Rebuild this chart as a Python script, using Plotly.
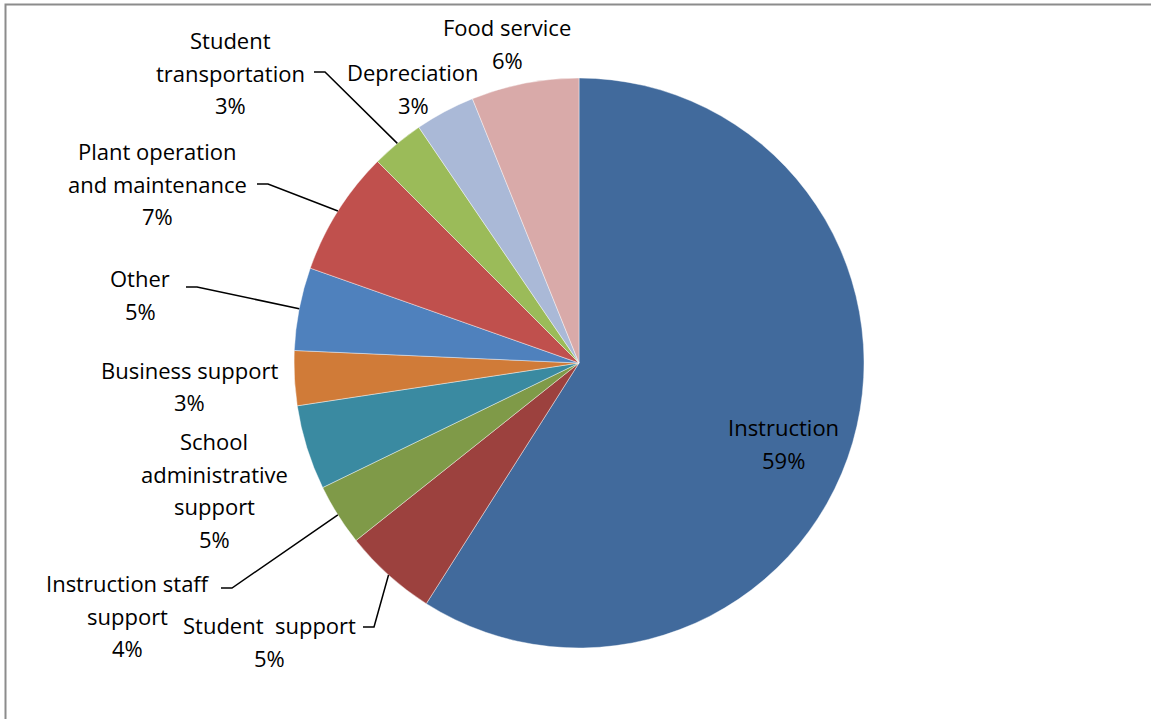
import math
import plotly.graph_objects as go

# ---- data ----
categories = ["Instruction", "Student support", "Instruction staff support",
              "School administrative support", "Business support", "Other",
              "Plant operation and maintenance", "Student transportation",
              "Depreciation", "Food service"]
values = [59.0, 5.3, 3.5, 4.8, 3.1, 4.7, 7.1, 3.0, 3.4, 6.1]
colors = ["#416A9C", "#9C413E", "#7F9A48", "#3A8AA1", "#D07B38", "#4F81BD",
          "#C0504D", "#9BBB59", "#AAB9D7", "#D9AAA9"]
label_lines = [["Instruction"], ["Student  support"], ["Instruction staff", "support"],
               ["School", "administrative", "support"], ["Business support"], ["Other"],
               ["Plant operation", "and maintenance"], ["Student", "transportation"],
               ["Depreciation"], ["Food service"]]

# ---- layout geometry (pixels) ----
W, H = 1151, 719
CX, CY, R = 579, 363, 285
# label centre x, first-line y
label_pos = [(783, 427), (269, 625), (128, 583), (214, 441), (190, 370),
             (140, 278), (157, 151), (231, 40), (413, 72), (507, 27)]
LINE_H = 32.5
# leader line: (index, horizontal-end point near label)
leaders = {7: (314, 72), 6: (257, 184), 5: (186, 287), 2: (221, 588), 1: (363, 627)}


def px(x):
    return x / W


def py(y):
    return 1 - y / H


fig = go.Figure(go.Pie(
    labels=categories, values=values, sort=False, direction="clockwise",
    rotation=0, textinfo="none", hoverinfo="label+percent",
    marker=dict(colors=colors, line=dict(color="rgba(255,255,255,0.6)", width=0.7)),
    domain=dict(x=[px(CX - R), px(CX + R)], y=[py(CY + R), py(CY - R)]),
    showlegend=False,
))

total = sum(values)
annotations = []
shapes = []
cum = 0
for i, (name, v) in enumerate(zip(categories, values)):
    pct = f"{round(100 * v / total)}%"
    lines = label_lines[i] + [pct]
    lx, ly = label_pos[i]
    for k, t in enumerate(lines):
        annotations.append(dict(
            x=px(lx), y=py(ly + k * LINE_H), xref="paper", yref="paper",
            text=t, showarrow=False, xanchor="center", yanchor="middle",
            font=dict(family="Open Sans, sans-serif", size=22, color="#000000")))
    mid = (cum + v / 2) / total * 2 * math.pi
    cum += v
    if i in leaders:
        sx = CX + R * math.sin(mid)
        sy = CY - R * math.cos(mid)
        ex, ey = leaders[i]
        shapes.append(dict(type="path", xref="paper", yref="paper",
                           path=f"M {px(ex)},{py(ey)} L {px(ex + 11)},{py(ey)} L {px(sx)},{py(sy)}",
                           line=dict(color="#000000", width=1.5)))

# outer frame (top and left edges visible)
shapes.append(dict(type="path", xref="paper", yref="paper",
                   path=f"M {px(5.5)},{py(H + 5)} L {px(5.5)},{py(4.5)} L {px(W + 5)},{py(4.5)}",
                   line=dict(color="#8C8C8C", width=2)))

fig.update_layout(
    width=W, height=H, margin=dict(l=0, r=0, t=0, b=0),
    paper_bgcolor="white", plot_bgcolor="white",
    annotations=annotations, shapes=shapes,
)
fig.write_html("out.html", config={"displayModeBar": False},
               post_script="document.body.style.margin='0';"
                           "document.body.style.overflow='hidden';")
